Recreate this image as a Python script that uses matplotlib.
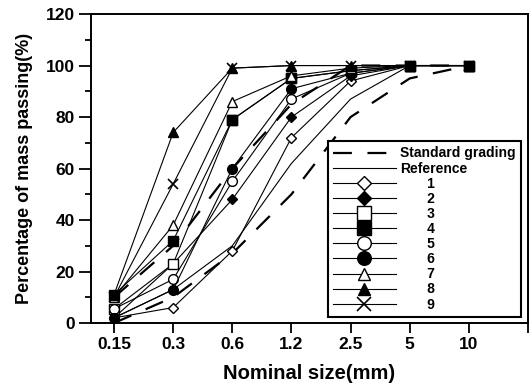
import matplotlib
matplotlib.use("Agg")
import matplotlib.pyplot as plt
from matplotlib.ticker import MultipleLocator, FixedLocator

plt.rcParams['font.family'] = ['Liberation Sans', 'DejaVu Sans']
plt.rcParams['font.weight'] = 'bold'

sizes = ['0.15', '0.3', '0.6', '1.2', '2.5', '5', '10']
std_upper = [10, 30, 60, 85, 100, 100, 100]
std_lower = [0, 10, 27, 50, 80, 95, 100]
reference = [2, 13, 30, 62, 87, 100, 100]
s1 = [2, 6, 28, 72, 94, 100, 100]
s2 = [2, 23, 48, 80, 96, 100, 100]
s3 = [5.5, 23, 79, 95, 98, 100, 100]
s4 = [11, 32, 79, 95, 98, 100, 100]
s5 = [5.5, 17, 55, 87, 97, 100, 100]
s6 = [2, 13, 60, 91, 97, 100, 100]
s7 = [10, 38, 86, 96, 99, 100, 100]
s8 = [11, 74, 99, 100, 100, 100, 100]
s9 = [10, 54, 99, 100, 100, 100, 100]
series_labels = ['1', '2', '3', '4', '5', '6', '7', '8', '9']

series = [s1, s2, s3, s4, s5, s6, s7, s8, s9]
markers = ['D', 'D', 's', 's', 'o', 'o', '^', '^', 'x']
filled = [False, True, False, True, False, True, False, True, True]
msizes = [5, 5, 7, 7, 7, 7, 6.5, 6.5, 7]

fig = plt.figure(figsize=(5.32, 3.85), dpi=100)
ax = fig.add_axes([0.171, 0.161, 0.8215, 0.8025])
x = list(range(len(sizes)))

ln, = ax.plot(x, std_upper, color='black', lw=1.6, label='Standard grading')
ln.set_dashes((8.5, 7))
ln2, = ax.plot(x, std_lower, color='black', lw=1.6)
ln2.set_dashes((8.5, 7))
ax.plot(x, reference, color='black', lw=0.8, label='Reference')

for s, m, f, ms, lab in zip(series, markers, filled, msizes, series_labels):
    ax.plot(x, s, color='black', lw=0.8, marker=m, ms=ms,
            mfc='black' if f else 'white', mec='black', mew=1.0 if m != 'x' else 1.2,
            label='       ' + lab)

ax.set_xlim(-0.39, 7.0)
ax.set_ylim(0, 120)
ax.set_xticks(x)
ax.set_xticklabels(sizes)
ax.xaxis.set_minor_locator(FixedLocator([7.0]))
ax.yaxis.set_major_locator(MultipleLocator(20))
ax.yaxis.set_minor_locator(MultipleLocator(10))
ax.tick_params(axis='y', which='major', direction='out', length=8.5, width=1.3,
               labelsize=12.5, pad=3)
ax.tick_params(axis='x', which='major', direction='out', length=7, width=1.3,
               labelsize=12.5, pad=3)
ax.tick_params(axis='y', which='minor', direction='out', length=4, width=1.3)
ax.tick_params(axis='x', which='minor', direction='out', length=7, width=1.3)
for sp in ax.spines.values():
    sp.set_linewidth(1.4)

ax.set_xlabel('Nominal size(mm)', fontsize=14.5, fontweight='bold', labelpad=9)
ax.set_ylabel('Percentage of mass passing(%)', fontsize=13, fontweight='bold', labelpad=9)

leg = ax.legend(loc='lower right', bbox_to_anchor=(0.984, 0.019), fontsize=10,
                handlelength=4.5, labelspacing=0.08, markerscale=1.4,
                fancybox=False, edgecolor='black', framealpha=1,
                borderpad=0.4, handletextpad=0.3, borderaxespad=0)
leg.get_frame().set_linewidth(1.5)
for t in leg.get_texts():
    t.set_fontweight('bold')

fig.savefig('out.png', dpi=100)
